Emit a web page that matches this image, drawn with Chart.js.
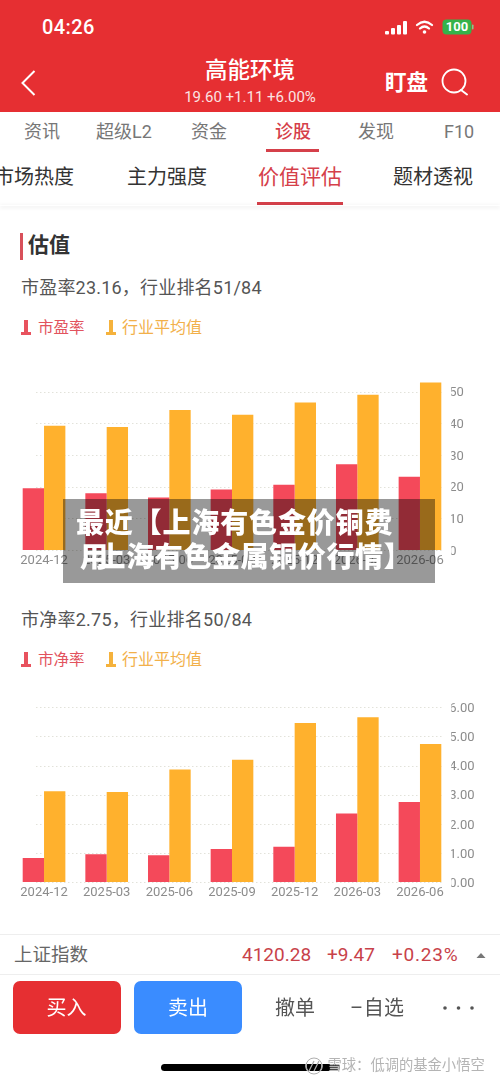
<!DOCTYPE html>
<html lang="zh-CN">
<head>
<meta charset="utf-8">
<title>估值</title>
<script src="https://cdn.jsdelivr.net/npm/chart.js@4"></script>
<style>
html,body{margin:0;padding:0;background:#fff}
body{position:relative;width:500px;height:1082px;overflow:hidden;font-family:Roboto,"Noto Sans CJK SC",sans-serif;filter:blur(.3px)}
.t{position:absolute;white-space:nowrap;transform:translateY(-50%);line-height:1.2}
.c{transform:translate(-50%,-50%)}
.b{position:absolute}
canvas{position:absolute;left:0}
svg{position:absolute;overflow:visible}
.icon{position:absolute;width:10px;height:15px}
.icon i{position:absolute;display:block;background:currentColor}
.icon i:first-child{left:3px;top:0;width:4px;height:14px}
.icon i:last-child{left:0;top:12px;width:10px;height:2.5px}
</style>
</head>
<body>
<div class="b" style="left:0;top:0;width:500px;height:112px;background:#e62f32"></div>
<div class="t" style="left:42px;top:27px;font-size:20px;font-weight:500;color:#fff;letter-spacing:.4px">04:26</div>
<svg style="left:0;top:0" width="500" height="112">
  <g fill="#fff">
    <rect x="385" y="31" width="4" height="3.5" rx="1"/><rect x="391" y="28" width="4" height="6.5" rx="1"/><rect x="397" y="25" width="4" height="9.5" rx="1"/><rect x="403" y="21" width="4" height="13.5" rx="1"/>
  </g>
  <g fill="none" stroke="#fff" stroke-linecap="round">
    <path d="M417 25 Q424.500 18.500 432 25" stroke-width="2.300"/><path d="M420 28.500 Q424.500 24.500 429 28.500" stroke-width="2.300"/>
  </g>
  <circle cx="424.500" cy="32" r="1.800" fill="#fff"/>
  <rect x="442.500" y="19.500" width="29" height="15" rx="4" fill="#35b34a"/>
  <rect x="472" y="24.500" width="1.500" height="5" rx=".7" fill="#7fcf8a"/>
  <path d="M34.500 71 L22.500 83 L34.500 95" fill="none" stroke="#fff" stroke-width="2"/>
  <circle cx="454" cy="81" r="11.500" fill="none" stroke="#fff" stroke-width="1.800"/>
  <path d="M461 90 L467 94.500" stroke="#fff" stroke-width="2" stroke-linecap="round"/>
</svg>
<div class="t c" style="left:457px;top:27px;font-size:13px;font-weight:700;color:#fff">100</div>
<div class="t c" style="left:250px;top:70px;font-size:22.500px;font-weight:500;color:#fff">高能环境</div>
<div class="t c" style="left:250px;top:97px;font-size:15px;color:#fbe3e3">19.60 +1.11 +6.00%</div>
<div class="t" style="left:385px;top:83px;font-size:21.500px;font-weight:700;color:#fff">盯盘</div>

<div class="t" style="left:24px;top:132px;font-size:18px;color:#777">资讯</div>
<div class="t" style="left:96px;top:132px;font-size:18px;color:#777">超级L2</div>
<div class="t" style="left:191px;top:132px;font-size:18px;color:#777">资金</div>
<div class="t" style="left:275px;top:132px;font-size:18px;font-weight:500;color:#d5404a">诊股</div>
<div class="t" style="left:358px;top:132px;font-size:18px;color:#777">发现</div>
<div class="t" style="left:444px;top:132px;font-size:18px;color:#777">F10</div>
<div class="b" style="left:266px;top:149px;width:53px;height:2.500px;background:#d5404a"></div>
<div class="t" style="left:-6px;top:177px;font-size:20px;color:#333">市场热度</div>
<div class="t" style="left:127px;top:177px;font-size:20px;color:#333">主力强度</div>
<div class="t" style="left:258px;top:178px;font-size:21px;color:#d5404a">价值评估</div>
<div class="t" style="left:393px;top:177px;font-size:20px;color:#333">题材透视</div>
<div class="b" style="left:257px;top:202px;width:86px;height:3px;background:#d5404a"></div>
<div class="b" style="left:0;top:205px;width:500px;height:1px;box-shadow:0 1px 4px rgba(0,0,0,.18)"></div>

<div class="b" style="left:20px;top:233px;width:3px;height:27px;background:#d8505a"></div>
<div class="t" style="left:28px;top:246px;font-size:21px;font-weight:700;color:#333">估值</div>
<div class="t" style="left:21px;top:288px;font-size:18px;color:#555;letter-spacing:.2px">市盈率23.16，行业排名51/84</div>
<div class="icon" style="left:21px;top:320px;color:#e8525e"><i></i><i></i></div>
<div class="t" style="left:38px;top:327.500px;font-size:15.500px;color:#e2535d">市盈率</div>
<div class="icon" style="left:106px;top:320px;color:#f5b23c"><i></i><i></i></div>
<div class="t" style="left:122px;top:327.500px;font-size:16px;color:#f2b04a">行业平均值</div>
<canvas id="pe" width="500" height="205" style="top:365px"></canvas>

<div class="t" style="left:21px;top:620px;font-size:18px;color:#555;letter-spacing:.25px">市净率2.75，行业排名50/84</div>
<div class="icon" style="left:21px;top:652px;color:#e8525e"><i></i><i></i></div>
<div class="t" style="left:38px;top:659.500px;font-size:15.500px;color:#e2535d">市净率</div>
<div class="icon" style="left:106px;top:652px;color:#f5b23c"><i></i><i></i></div>
<div class="t" style="left:122px;top:659.500px;font-size:16px;color:#f2b04a">行业平均值</div>
<canvas id="pb" width="500" height="205" style="top:697px"></canvas>

<div class="b" style="left:63px;top:499px;width:372px;height:84px;background:rgba(0,0,0,.4)"></div>
<div class="t" style="left:76px;top:522px;font-size:28px;font-weight:900;color:#fff;letter-spacing:.85px;font-family:'Noto Sans CJK SC'">最近【上海有色金价铜费</div>
<div class="t" style="left:80px;top:556px;font-size:28px;font-weight:900;color:#fff;letter-spacing:.6px;font-family:'Noto Sans CJK SC'">用<span style="margin-left:-11px">上海有色金属铜价行情】</span></div>

<div class="b" style="left:0;top:934px;width:500px;height:1px;background:#eee"></div>
<div class="t" style="left:14px;top:955px;font-size:18.500px;color:#666">上证指数</div>
<div class="t" style="left:242px;top:955px;font-size:19px;color:#c8424a">4120.28</div>
<div class="t" style="left:327px;top:955px;font-size:19px;color:#c8424a">+9.47</div>
<div class="t" style="left:392px;top:955px;font-size:19px;color:#c8424a;letter-spacing:.8px">+0.23%</div>
<svg style="left:0;top:0" width="500" height="1082">
  <path d="M476.500 958 L481 953 L485.500 958 Z" fill="#777"/>
  <g fill="#555"><circle cx="445" cy="1008" r="1.800"/><circle cx="458.500" cy="1008" r="1.800"/><circle cx="472" cy="1008" r="1.800"/></g>
</svg>
<div class="b" style="left:0;top:974px;width:500px;height:1px;background:#eee"></div>
<div class="b" style="left:12.500px;top:981px;width:108px;height:53px;border-radius:7px;background:#e62f32"></div>
<div class="b" style="left:134px;top:981px;width:108px;height:53px;border-radius:7px;background:#3a8cff"></div>
<div class="t c" style="left:66.500px;top:1008px;font-size:20px;color:#fff">买入</div>
<div class="t c" style="left:188px;top:1008px;font-size:20px;color:#fff">卖出</div>
<div class="t" style="left:275px;top:1008px;font-size:20px;color:#555">撤单</div>
<div class="t" style="left:350px;top:1008px;font-size:20px;color:#555;letter-spacing:.5px">–自选</div>
<div class="b" style="left:161px;top:1064px;width:179px;height:7px;border-radius:4px;background:#000"></div>
<svg style="left:0;top:0" width="500" height="1082">
  <circle cx="314" cy="1066" r="8" fill="none" stroke="#fff" stroke-width="1.500" opacity=".85"/>
  <circle cx="314" cy="1066" r="8" fill="none" stroke="#999" stroke-width=".8"/>
  <path d="M309 1071 L314 1061 M314 1071 L319 1061" stroke="#aaa" stroke-width="1.200"/>
</svg>
<div class="t" style="left:327.500px;top:1066px;font-size:14.300px;color:#b4b4b4;text-shadow:0 0 1px #fff,0 0 1px #fff">雪球：低调的基金小悟空</div>

<script>
const categories = ['2024-12','2025-03','2025-06','2025-09','2025-12','2026-03','2026-06'];
const peValues   = [19.5,17.9,16.6,19.1,20.6,27.05,23.16];
const peIndustry = [39.2,38.8,44.2,42.7,46.6,49.0,52.9];
const pbValues   = [0.82,0.95,0.92,1.13,1.21,2.35,2.75];
const pbIndustry = [3.12,3.09,3.86,4.20,5.46,5.66,4.74];
const peTicks = [0,10,20,30,40,50];
const pbTicks = [0,1,2,3,4,5,6];

const TICK_FONT = {family:'"Liberation Sans Narrow",Roboto,sans-serif',size:13,weight:'normal'};
const dottedGrid = {
  id:'dottedGrid',
  beforeDatasetsDraw(chart){
    const {ctx,scales:{y}} = chart;
    ctx.save();
    ctx.strokeStyle = '#e2e2da';
    ctx.lineWidth = 1;
    ctx.setLineDash([1.5,2.5]);
    y.ticks.forEach(t=>{
      const py = Math.round(y.getPixelForValue(t.value))+.5;
      ctx.beginPath();ctx.moveTo(36,py);ctx.lineTo(443,py);ctx.stroke();
    });
    ctx.restore();
  }
};
function draw(id,label,vals,avg,ticks,max,padTop,fmt){
  new Chart(document.getElementById(id),{
    type:'bar',
    data:{labels:categories,datasets:[
      {label,data:vals,backgroundColor:'#f4495a'},
      {label:'行业平均值',data:avg,backgroundColor:'#ffb12d'}
    ]},
    options:{
      responsive:false,animation:false,
      devicePixelRatio:window.devicePixelRatio,
      layout:{padding:{left:12.700,top:padTop,right:0,bottom:0}},
      datasets:{bar:{categoryPercentage:.681,barPercentage:1,borderWidth:0}},
      plugins:{legend:{display:false},tooltip:{enabled:false}},
      scales:{
        x:{grid:{display:false,drawTicks:false,tickLength:0},border:{display:false},
           afterFit(a){a.height=20;},
           ticks:{color:'#8c8c8c',font:TICK_FONT,padding:3,maxRotation:0,autoSkip:false}},
        y:{position:'right',min:0,max,grid:{display:false,drawTicks:false,tickLength:0},border:{display:false},
           afterBuildTicks(a){a.ticks=ticks.map(v=>({value:v}));},
           afterFit(a){a.width=48.700;},
           ticks:{color:'#8c8c8c',font:TICK_FONT,padding:-2,crossAlign:'near',labelOffset:1.500,callback:fmt}}
      }
    },
    plugins:[dottedGrid]
  });
}
draw('pe','市盈率',peValues,peIndustry,peTicks,55,10.800,v=>String(v));
draw('pb','市净率',pbValues,pbIndustry,pbTicks,6,10.300,v=>v.toFixed(2));
</script>
</body>
</html>
